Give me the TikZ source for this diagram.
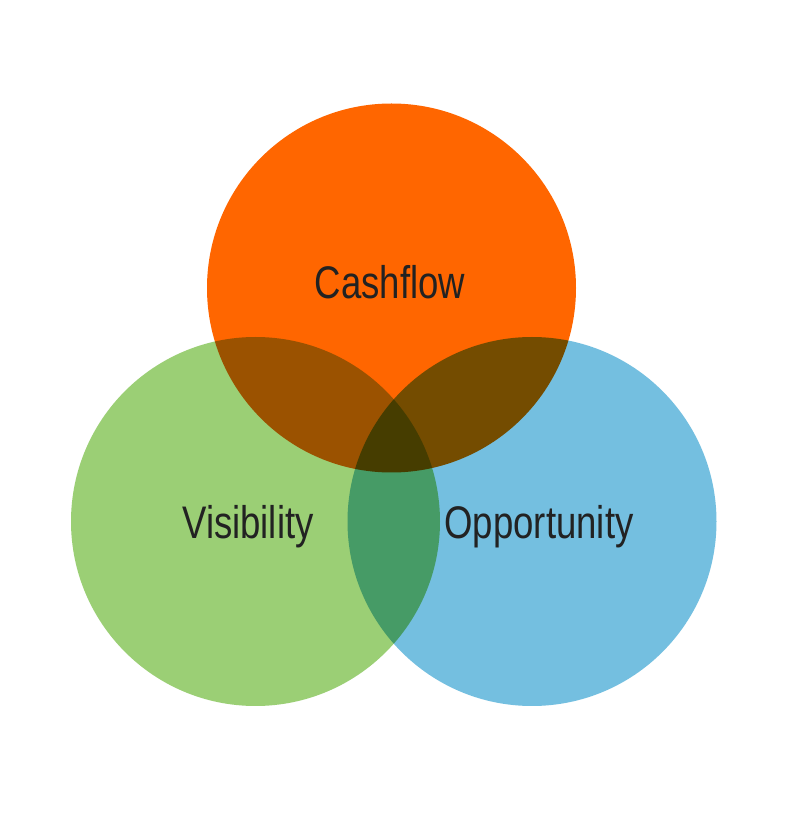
\documentclass[tikz,border=0pt]{standalone}
\usepackage{fontspec}
\setmainfont{Liberation Sans}
\definecolor{cashorange}{HTML}{FF6600}
\definecolor{visgreen}{HTML}{9BCF75}
\definecolor{oppblue}{HTML}{74BFE0}
\definecolor{ink}{HTML}{222222}
\tikzset{set/.style={circle,minimum size=7.38cm,inner sep=0pt,blend mode=multiply},
  setlabel/.style={text=ink,font=\fontsize{26}{30}\selectfont,xscale=.8,transform shape}}
\begin{document}
\begin{tikzpicture}
\useasboundingbox[fill=white] (0,0) rectangle (16.02,16.30);
% Three overlapping sets, colours mixed by multiplying.
\begin{scope}[transparency group]
\node[set,fill=cashorange] (cash) at (7.83,10.54) {};
\node[set,fill=visgreen] (vis) at (5.11,5.87) {};
\node[set,fill=oppblue] (opp) at (10.64,5.87) {};
\end{scope}
% Labels.
\node[setlabel] (cashlab) at (7.80,10.66) {Cashflow};
\node[setlabel] (vislab) at (4.96,5.76) {Visibility};
\node[setlabel] (opplab) at (10.78,5.76) {Opportunity};
\end{tikzpicture}
\end{document}
